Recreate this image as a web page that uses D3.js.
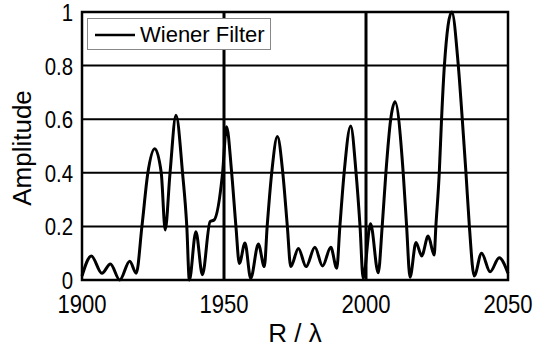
<!DOCTYPE html>
<html lang="en">
<head>
<meta charset="UTF-8">
<title>Wiener Filter</title>
<style>
  body { margin: 0; background: #fff; }
  svg { display: block; font-family: "Liberation Sans", Arial, sans-serif; }
  .grid { stroke: #000; stroke-width: 2px; }
  .tick-label { font-size: 26px; fill: #000; }
  .y-tick { font-size: 24px; }
  .title { font-size: 26px; fill: #000; }
</style>
</head>
<body>
<svg width="535" height="353"></svg>
<script src="https://d3js.org/d3.v7.min.js"></script>
<script>
// values
const radius = [1900, 1903.3, 1907, 1910, 1913.3, 1916.8, 1919.1, 1921.1, 1923.2, 1925.6,
  1927.9, 1929.3, 1931.0, 1933.1, 1935.4, 1936.9, 1937.8, 1940.1, 1942.4, 1945.1,
  1946.5, 1949.5, 1950.9, 1952.7, 1954.2, 1955.4, 1957.4, 1959.4, 1962.1, 1964.2,
  1965.2, 1966.8, 1968.8, 1970.7, 1972.3, 1973.5, 1976.2, 1978.9, 1982.0, 1984.7,
  1987.6, 1989.7, 1990.8, 1992.3, 1994.6, 1996.5, 1997.9, 1999.0, 2001.6, 2004.3,
  2005.7, 2007.0, 2008.7, 2010.2, 2013.1, 2014.3, 2015.5, 2017.6, 2019.6, 2021.9,
  2024.0, 2024.6, 2025.8, 2026.6, 2027.6, 2030.2, 2032.5, 2033.9, 2035.2, 2036.4,
  2038.1, 2040.7, 2043.7, 2046.9, 2050];
const amplitude = [0.015, 0.09, 0.025, 0.06, 0.0, 0.07, 0.025, 0.2, 0.4, 0.49,
  0.4, 0.187, 0.4, 0.615, 0.4, 0.2, 0.0, 0.18, 0.02, 0.218,
  0.224, 0.4, 0.572, 0.4, 0.2, 0.062, 0.138, 0.006, 0.134, 0.05,
  0.2, 0.4, 0.535, 0.4, 0.2, 0.05, 0.118, 0.05, 0.122, 0.052,
  0.122, 0.044, 0.2, 0.4, 0.575, 0.4, 0.2, 0.006, 0.21, 0.027,
  0.2, 0.4, 0.6, 0.665, 0.4, 0.2, 0.01, 0.14, 0.09, 0.164,
  0.093, 0.2, 0.4, 0.6, 0.8, 1.0, 0.8, 0.6, 0.4, 0.2,
  0.015, 0.1, 0.031, 0.083, 0.025];
const xTicks = [1900, 1950, 2000, 2050];
const yTicks = [0, 0.2, 0.4, 0.6, 0.8, 1];
const legendLabel = "Wiener Filter";

const svg = d3.select("svg");
const plotLeft = 82, plotRight = 508, plotTop = 12, plotBottom = 280;
const squeeze = 0.85; // tick digits in the reference are narrow and tall

const x = d3.scaleLinear().domain([1900, 2050]).range([plotLeft, plotRight]);
const y = d3.scaleLinear().domain([0, 1]).range([plotBottom, plotTop]);

// grid
svg.append("g").selectAll("line")
  .data(yTicks.slice(1, -1))
  .join("line")
  .attr("class", "grid")
  .attr("x1", plotLeft).attr("x2", plotRight)
  .attr("y1", d => y(d)).attr("y2", d => y(d));

svg.append("g").selectAll("line")
  .data(xTicks.slice(1, -1))
  .join("line")
  .attr("class", "grid")
  .style("stroke-width", "3px")
  .attr("y1", plotTop).attr("y2", plotBottom)
  .attr("x1", d => x(d)).attr("x2", d => x(d));

// curve
const data = radius.map((r, i) => ({ r: r, a: amplitude[i] }));
const line = d3.line()
  .x(d => x(d.r))
  .y(d => y(d.a))
  .curve(d3.curveMonotoneX);

svg.append("path")
  .datum(data)
  .attr("fill", "none")
  .attr("stroke", "#000")
  .attr("stroke-width", 3)
  .attr("stroke-linejoin", "round")
  .attr("d", line);

// frame
svg.append("rect")
  .attr("x", plotLeft).attr("y", plotTop)
  .attr("width", plotRight - plotLeft).attr("height", plotBottom - plotTop)
  .attr("fill", "none")
  .attr("stroke", "#000")
  .attr("stroke-width", 2.5);

// tick labels
svg.append("g").selectAll("text")
  .data(yTicks)
  .join("text")
  .attr("class", "tick-label y-tick")
  .attr("transform", d => `translate(${plotLeft - 9},${y(d) + 9}) scale(${squeeze},1)`)
  .attr("text-anchor", "end")
  .text(d => d3.format("~g")(d));

svg.append("g").selectAll("text")
  .data(xTicks)
  .join("text")
  .attr("class", "tick-label")
  .attr("transform", d => `translate(${x(d)},313) scale(${squeeze},1)`)
  .attr("text-anchor", "middle")
  .text(d => d);

// axis titles
svg.append("text")
  .attr("class", "title")
  .attr("x", 295).attr("y", 342)
  .attr("text-anchor", "middle")
  .text("R / λ");

svg.append("text")
  .attr("class", "title")
  .attr("transform", "translate(31,148) rotate(-90)")
  .attr("text-anchor", "middle")
  .text("Amplitude");

// legend
const lg = svg.append("g");
lg.append("rect")
  .attr("x", 87.5).attr("y", 18.5)
  .attr("width", 183).attr("height", 31)
  .attr("fill", "#fff")
  .attr("stroke", "#888")
  .attr("stroke-width", 1);
lg.append("line")
  .attr("x1", 95).attr("x2", 135)
  .attr("y1", 35).attr("y2", 35)
  .attr("stroke", "#000").attr("stroke-width", 2.5);
lg.append("text")
  .attr("x", 140).attr("y", 42)
  .attr("font-size", 22)
  .text(legendLabel);
</script>
</body>
</html>
